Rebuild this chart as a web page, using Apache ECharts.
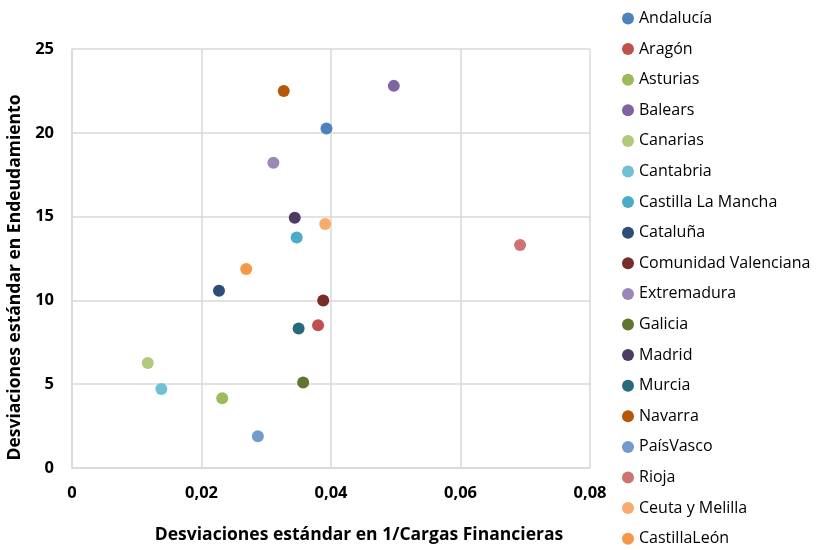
<!DOCTYPE html>
<html>
<head>
<meta charset="utf-8">
<script src="https://cdn.jsdelivr.net/npm/echarts@6/dist/echarts.min.js"></script>
<style>
    html, body { margin: 0; padding: 0; background: #fff; }
    #chart { width: 816px; height: 550px; }
</style>
</head>
<body>
<div id="chart"></div>
<script>
var regions = ['Andalucía', 'Aragón', 'Asturias', 'Balears', 'Canarias', 'Cantabria',
    'Castilla La Mancha', 'Cataluña', 'Comunidad Valenciana', 'Extremadura', 'Galicia',
    'Madrid', 'Murcia', 'Navarra', 'PaísVasco', 'Rioja', 'Ceuta y Melilla', 'CastillaLeón'];
// desviaciones estandar en 1/Cargas Financieras
var desvCargas = [0.0393, 0.0380, 0.0232, 0.0497, 0.0117, 0.0138,
    0.0347, 0.0227, 0.0388, 0.0311, 0.0357,
    0.0344, 0.0350, 0.0327, 0.0287, 0.0692, 0.0391, 0.0269];
// desviaciones estandar en Endeudamiento
var desvEndeud = [20.25, 8.52, 4.16, 22.8, 6.27, 4.72,
    13.76, 10.57, 10.0, 18.22, 5.10,
    14.93, 8.33, 22.5, 1.89, 13.3, 14.56, 11.87];

var palette = ['#4F81BD', '#C0504D', '#9BBB59', '#8064A2', '#AFCA7A', '#6FC0D3',
    '#4BACC6', '#2C4D75', '#772C2A', '#9C88B8', '#5F7530',
    '#4D3B62', '#276A7C', '#B65708', '#729ACA', '#CD7371', '#F9AB6C', '#F79646'];

var chartHolder = document.getElementById('chart');
var chart = echarts.init(chartHolder);

var font = '"Open Sans", Lato, sans-serif';

function comma(v) {
    return String(v).replace('.', ',');
}

var series = regions.map(function (name, i) {
    return {
        name: name,
        type: 'scatter',
        symbolSize: 12,
        itemStyle: { color: palette[i], opacity: 1 },
        data: [[desvCargas[i], desvEndeud[i]]]
    };
});

var option = {
    animation: false,
    color: palette,
    grid: {
        left: 72,
        top: 49,
        width: 518,
        height: 419,
        outerBoundsMode: 'none'
    },
    legend: {
        orient: 'vertical',
        left: 617,
        top: 4,
        height: 546,
        icon: 'circle',
        itemWidth: 12,
        itemHeight: 12,
        itemGap: 11.6,
        textStyle: {
            fontFamily: font,
            fontSize: 16,
            lineHeight: 19,
            color: '#000'
        },
        data: regions
    },
    xAxis: {
        type: 'value',
        min: 0,
        max: 0.08,
        interval: 0.02,
        name: 'Desviaciones estándar en 1/Cargas Financieras',
        nameLocation: 'middle',
        nameGap: 58,
        nameTextStyle: {
            fontFamily: font,
            fontSize: 17.5,
            fontWeight: 'bold',
            color: '#000',
            padding: [0, 0, 0, 56]
        },
        axisLine: { lineStyle: { color: '#D9D9D9', width: 1.5 } },
        axisTick: { show: false },
        splitLine: { lineStyle: { color: '#D9D9D9', width: 1.5 } },
        axisLabel: {
            margin: 17,
            fontFamily: font,
            fontSize: 16.5,
            fontWeight: 'bold',
            color: '#000',
            formatter: comma
        }
    },
    yAxis: {
        type: 'value',
        min: 0,
        max: 25,
        interval: 5,
        name: 'Desviaciones estándar en Endeudamiento',
        nameLocation: 'middle',
        nameGap: 45,
        nameTextStyle: {
            fontFamily: font,
            fontSize: 17.5,
            fontWeight: 'bold',
            color: '#000',
            padding: [0, 38, 0, 0]
        },
        axisLine: { show: true, lineStyle: { color: '#D9D9D9', width: 1.5 } },
        axisTick: { show: false },
        splitLine: { lineStyle: { color: '#D9D9D9', width: 1.5 } },
        axisLabel: {
            margin: 18,
            fontFamily: font,
            fontSize: 16.5,
            fontWeight: 'bold',
            color: '#000',
            formatter: comma
        }
    },
    series: series
};

chart.setOption(option);
</script>
</body>
</html>
